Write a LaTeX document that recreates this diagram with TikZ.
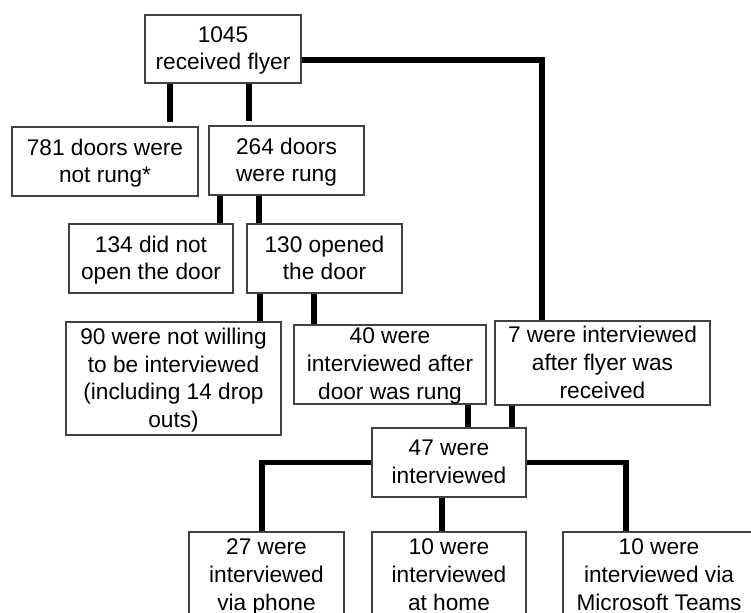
\documentclass[tikz,border=0pt]{standalone}
\usepackage{fontspec}
\setmainfont{Liberation Sans}
\usetikzlibrary{positioning}
\tikzset{
  box/.style={draw=black!75, line width=1pt, align=center, inner sep=0pt, text depth=1.2pt,
    font=\fontsize{17}{20.8}\selectfont},
  link/.style={line width=4pt},
  gap/.style={shorten >=3pt}
}
\begin{document}
\begin{tikzpicture}[x=0.75pt,y=-0.75pt]
\useasboundingbox (0,0) rectangle (751,613);
\clip (0,0) rectangle (751,613);
\node[box, minimum width=117pt, minimum height=51pt] (top) at (223,49) {1045\\received flyer};
\node[box, minimum width=139.5pt, minimum height=51.75pt] (notrung) at (105,161.5) {781 doors were\\not rung*};
\node[box, minimum width=116.25pt, minimum height=51.75pt] (rung) at (286.5,160.5) {264 doors\\were rung};
\node[box, minimum width=123pt, minimum height=51.75pt] (noopen) at (151,258.5) {134 did not\\open the door};
\node[box, minimum width=116.25pt, minimum height=51.75pt] (opened) at (324.5,258.5) {130 opened\\the door};
\node[box, minimum width=161.25pt, minimum height=84.75pt] (notwill) at (173.5,378.5) {90 were not willing\\to be interviewed\\(including 14 drop\\outs)};
\node[box, minimum width=144pt, minimum height=59.25pt] (intdoor) at (390,364.5) {40 were\\interviewed after\\door was rung};
\node[box, minimum width=161.25pt, minimum height=63pt] (intflyer) at (602.5,363) {7 were interviewed\\after flyer was\\received};
\node[box, minimum width=115.5pt, minimum height=51.75pt] (int47) at (449,462.5) {47 were\\interviewed};
\node[box, minimum width=116.25pt, minimum height=65.25pt] (phone) at (266.5,575.5) {27 were\\interviewed\\via phone};
\node[box, minimum width=115.5pt, minimum height=65.25pt] (home) at (449,575.5) {10 were\\interviewed\\at home};
\node[box, minimum width=144pt, minimum height=65.25pt] (teams) at (659,575.5) {10 were\\interviewed via\\Microsoft Teams};
% connectors
\draw[link, gap] ([shift={(-53,0)}]top.south) -- ([shift={(65,0)}]notrung.north);
\draw[link, gap] ([shift={(26,0)}]top.south) -- ([shift={(-37.5,0)}]rung.north);
\draw[link] ([shift={(0,11)}]top.east) -| ([shift={(-60.5,0)}]intflyer.north);
\draw[link] ([shift={(-66.5,0)}]rung.south) -- ([shift={(69,0)}]noopen.north);
\draw[link] ([shift={(-27.5,0)}]rung.south) -- ([shift={(-65.5,0)}]opened.north);
\draw[link] ([shift={(-64.5,0)}]opened.south) -- ([shift={(86.5,0)}]notwill.north);
\draw[link] ([shift={(-10.5,0)}]opened.south) -- ([shift={(-76,0)}]intdoor.north);
\draw[link] ([shift={(78,0)}]intdoor.south) -- ([shift={(19,0)}]int47.north);
\draw[link] ([shift={(-90.5,0)}]intflyer.south) -- ([shift={(63,0)}]int47.north);
\draw[link] (int47.west) -| ([shift={(-4.5,0)}]phone.north);
\draw[link] (int47.east) -| ([shift={(-33,0)}]teams.north);
\draw[link] ([shift={(-7,0)}]int47.south) -- ([shift={(-7,0)}]home.north);
\end{tikzpicture}
\end{document}
